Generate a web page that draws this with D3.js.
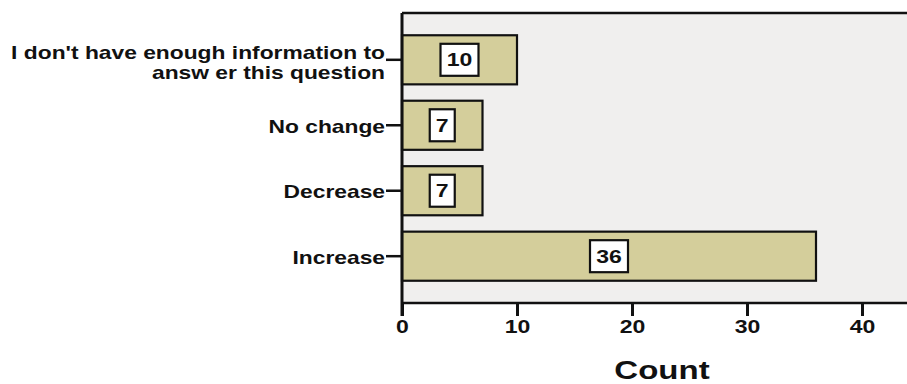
<!DOCTYPE html>
<html>
<head>
<meta charset="utf-8">
<script src="https://cdn.jsdelivr.net/npm/d3@7"></script>
<style>
  html, body { margin: 0; padding: 0; background: #ffffff; }
  svg { display: block; }
  text { font-family: "Liberation Sans", Arial, sans-serif; fill: #111; }
</style>
</head>
<body>
<script>
// Survey responses, horizontal bar chart of counts
const categories = [
  ["I don't have enough information to", "answ er this question"],
  ["No change"],
  ["Decrease"],
  ["Increase"]
];
const counts = [10, 7, 7, 36];
const xTicks = [0, 10, 20, 30, 40];
const xTitle = "Count";

const W = 907, H = 384;
const plotLeft = 402, plotTop = 13, plotBottom = 303, plotRight = 907;
const stretch = 1.28; // wide lettering

const svg = d3.select("body").append("svg")
  .attr("width", W).attr("height", H);

const x = d3.scaleLinear().domain([0, 40]).range([plotLeft, 862]);
const y = d3.scaleBand()
  .domain(d3.range(categories.length))
  .range([plotTop, plotBottom])
  .paddingInner(0.25)
  .paddingOuter(0.34);

// plot background
svg.append("rect")
  .attr("x", plotLeft).attr("y", plotTop)
  .attr("width", plotRight - plotLeft).attr("height", plotBottom - plotTop)
  .attr("fill", "#f0efee");

// top frame line
svg.append("line")
  .attr("x1", plotLeft).attr("x2", plotRight)
  .attr("y1", plotTop).attr("y2", plotTop)
  .attr("stroke", "#111").attr("stroke-width", 2.5);

// bars
svg.append("g").selectAll("rect")
  .data(counts)
  .join("rect")
  .attr("x", x(0))
  .attr("y", (d, i) => y(i))
  .attr("width", d => x(d) - x(0))
  .attr("height", y.bandwidth())
  .attr("fill", "#d4ce9b")
  .attr("stroke", "#111")
  .attr("stroke-width", 2.2);

// value labels in white boxes
const lab = svg.append("g").selectAll("g")
  .data(counts)
  .join("g")
  .attr("transform", (d, i) => `translate(${x(d / 2)},${y(i) + y.bandwidth() / 2})`);
lab.append("rect")
  .attr("x", d => -(String(d).length > 1 ? 19 : 12.5))
  .attr("width", d => (String(d).length > 1 ? 38 : 25))
  .attr("y", -16).attr("height", 32)
  .attr("fill", "#fff").attr("stroke", "#111").attr("stroke-width", 2.2);
lab.append("text")
  .attr("text-anchor", "middle")
  .attr("dy", "0.36em")
  .attr("font-size", 18)
  .attr("font-weight", "bold")
  .attr("transform", `scale(${stretch},1)`)
  .text(d => d);

// x axis
const xAxis = svg.append("g")
  .attr("transform", `translate(0,${plotBottom})`)
  .call(d3.axisBottom(x).tickValues(xTicks).tickSize(13).tickPadding(4).tickSizeOuter(0));
xAxis.select(".domain").attr("d", `M${plotLeft},0H${plotRight}`).attr("stroke", "#111").attr("stroke-width", 2.5);
xAxis.selectAll(".tick line").attr("stroke", "#111").attr("stroke-width", 3);
xAxis.selectAll(".tick text")
  .attr("font-size", 18).attr("font-weight", "bold").attr("fill", "#111")
  .attr("transform", `scale(${stretch},1)`)
  .style("font-family", "'Liberation Sans', Arial, sans-serif");

// y axis
const yAxis = svg.append("g")
  .attr("transform", `translate(${plotLeft},0)`)
  .call(d3.axisLeft(y).tickSize(16).tickPadding(3).tickFormat(""));
yAxis.select(".domain").attr("d", `M0,${plotTop}V${plotBottom + 13}`).attr("stroke", "#111").attr("stroke-width", 3);
yAxis.selectAll(".tick line").attr("stroke", "#111").attr("stroke-width", 2.5);

// category labels (possibly two lines)
const yl = svg.append("g").selectAll("text")
  .data(categories)
  .join("text")
  .attr("text-anchor", "end")
  .attr("font-size", 18)
  .attr("font-weight", "bold")
  .attr("fill", "#1a1a1a")
  .attr("transform", (d, i) => `translate(385,${y(i) + y.bandwidth() / 2 + 1}) scale(${stretch * 0.99},1)`);
yl.selectAll("tspan")
  .data(d => d.map((t, k) => ({ t, k, n: d.length })))
  .join("tspan")
  .attr("x", 0)
  .attr("y", d => d.n > 1 ? (d.k === 0 ? -8 : 12) : 0)
  .attr("dy", "0.36em")
  .text(d => d.t);

// axis title
svg.append("text")
  .attr("text-anchor", "middle")
  .attr("font-size", 25)
  .attr("font-weight", "bold")
  .attr("transform", `translate(662,379) scale(1.32,1)`)
  .text(xTitle);
</script>
</body>
</html>
